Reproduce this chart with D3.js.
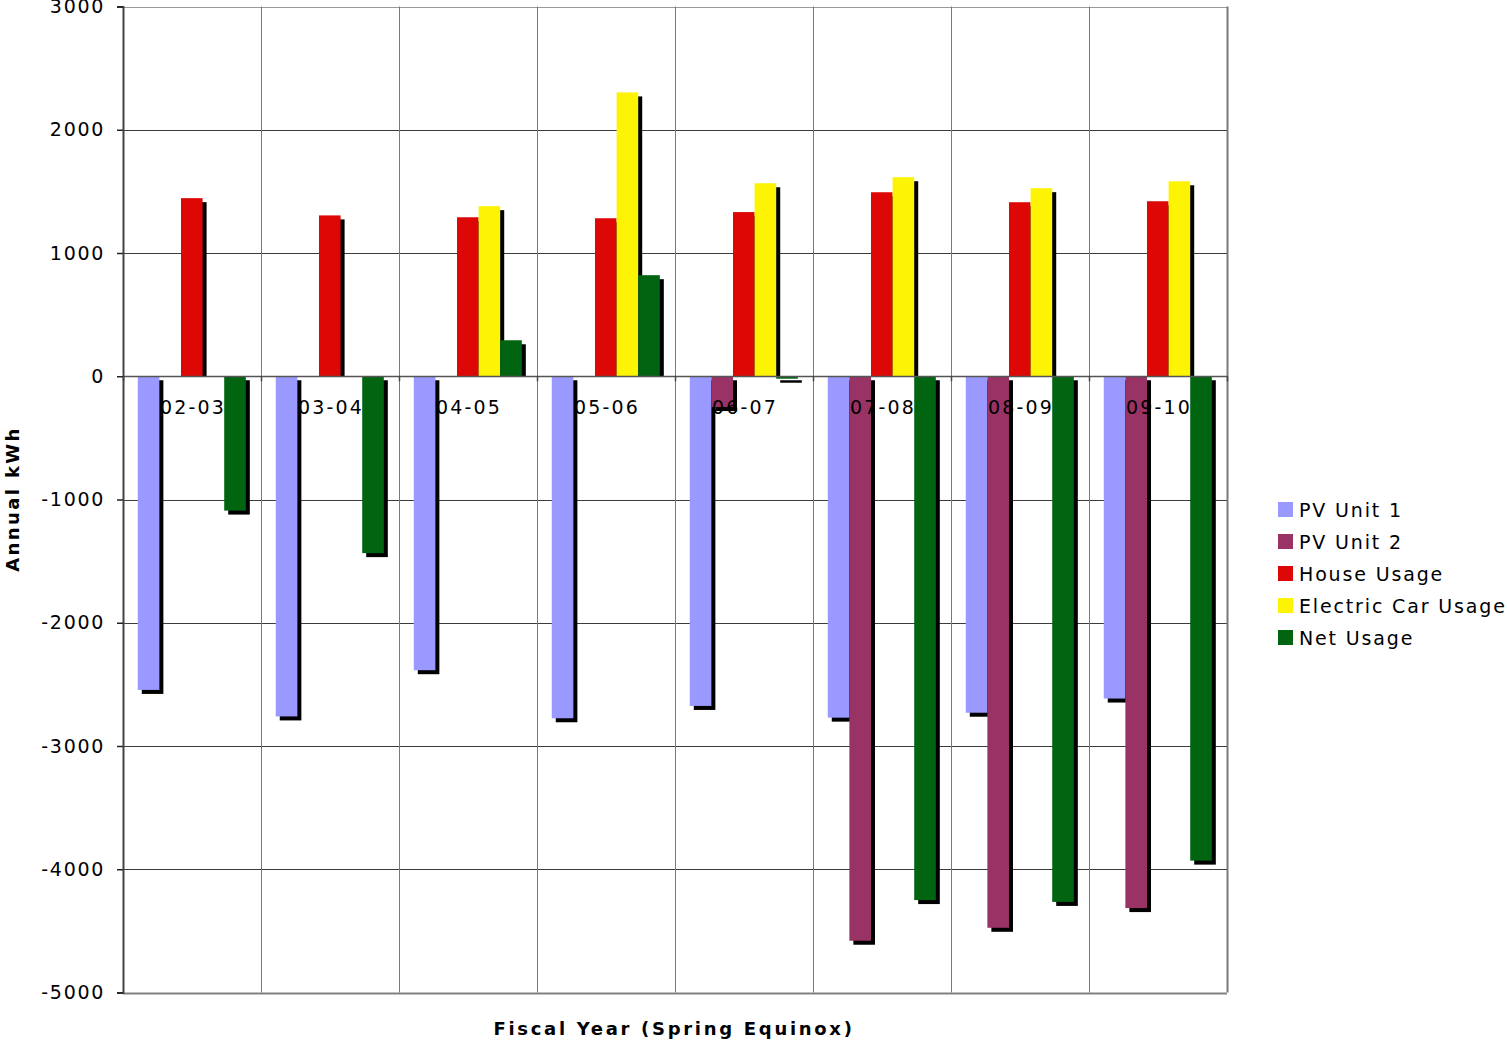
<!DOCTYPE html>
<html>
<head>
<meta charset="utf-8">
<script src="https://cdn.jsdelivr.net/npm/d3@7"></script>
<style>
  html, body { margin: 0; padding: 0; background: #fff; }
  svg { display: block; }
  text { font-family: "DejaVu Sans", Verdana, sans-serif; fill: #000; }
</style>
</head>
<body>
<svg id="chart" width="1507" height="1042"></svg>
<script>
const categories = ["02-03", "03-04", "04-05", "05-06", "06-07", "07-08", "08-09", "09-10"];
const seriesNames = ["PV Unit 1", "PV Unit 2", "House Usage", "Electric Car Usage", "Net Usage"];
const pvUnit1 = [-2545, -2760, -2385, -2775, -2675, -2770, -2730, -2615];
const pvUnit2 = [0, 0, 0, 0, -250, -4580, -4475, -4315];
const houseUsage = [1445, 1305, 1290, 1282, 1332, 1493, 1412, 1420];
const electricCarUsage = [0, 0, 1380, 2303, 1566, 1615, 1526, 1582];
const netUsage = [-1090, -1435, 292, 820, -20, -4250, -4265, -3930];
const yTicks = [3000, 2000, 1000, 0, -1000, -2000, -3000, -4000, -5000];
const seriesColors = ["#9999FF", "#993366", "#DD0806", "#FCF305", "#006411"];

const seriesValues = [pvUnit1, pvUnit2, houseUsage, electricCarUsage, netUsage];

const svg = d3.select("#chart");
const plot = { left: 123, right: 1227, top: 6.5, bottom: 992.5 };

const y = d3.scaleLinear().domain([-5000, 3000]).range([plot.bottom, plot.top]);
const x0 = d3.scaleBand().domain(categories).range([plot.left, plot.right]).padding(0);
const gw = x0.bandwidth();
const x1 = d3.scaleBand().domain(seriesNames).range([gw * 0.107, gw * 0.89]).padding(0);

const data = [];
categories.forEach((c, i) => {
  seriesNames.forEach((s, j) => {
    data.push({ cat: c, series: s, value: seriesValues[j][i], color: seriesColors[j] });
  });
});

// horizontal gridlines
svg.append("g").selectAll("line").data(yTicks).join("line")
  .attr("x1", plot.left).attr("x2", plot.right)
  .attr("y1", d => Math.round(y(d)) + 0.5).attr("y2", d => Math.round(y(d)) + 0.5)
  .attr("stroke", d => d === 3000 ? "#9a9a9a" : (d === -5000 ? "#808080" : "#3c3c3c"))
  .attr("stroke-width", d => d === -5000 ? 2 : 1);

// vertical separators
const seps = categories.map(c => x0(c)).slice(1).concat([plot.right]);
svg.append("g").selectAll("line").data(seps).join("line")
  .attr("x1", d => Math.round(d) + 0.5).attr("x2", d => Math.round(d) + 0.5)
  .attr("y1", plot.top).attr("y2", plot.bottom)
  .attr("stroke", "#7a7a7a").attr("stroke-width", d => d === plot.right ? 2 : 1);

const z = y(0);
const off = 4;

// shadows
svg.append("g").selectAll("rect").data(data.filter(d => d.value !== 0)).join("rect")
  .attr("x", d => x0(d.cat) + x1(d.series) + off)
  .attr("width", x1.bandwidth())
  .attr("y", d => d.value > 0 ? y(d.value) + off : z + off)
  .attr("height", d => d.value > 0 ? Math.max(0, z - y(d.value) - off) : y(d.value) - z)
  .attr("fill", "#000");

// bars
svg.append("g").selectAll("rect").data(data.filter(d => d.value !== 0)).join("rect")
  .attr("x", d => x0(d.cat) + x1(d.series))
  .attr("width", x1.bandwidth())
  .attr("y", d => d.value > 0 ? y(d.value) : z)
  .attr("height", d => Math.abs(y(d.value) - z))
  .attr("fill", d => d.color);

// zero axis line
svg.append("line")
  .attr("x1", plot.left).attr("x2", plot.right)
  .attr("y1", Math.round(z) + 0.5).attr("y2", Math.round(z) + 0.5)
  .attr("stroke", "#555").attr("stroke-width", 1.5);

// category ticks at zero line
const catTickPos = categories.map(c => x0(c)).concat([plot.right]);
svg.append("g").selectAll("line").data(catTickPos).join("line")
  .attr("x1", d => Math.round(d) + 0.5).attr("x2", d => Math.round(d) + 0.5)
  .attr("y1", z).attr("y2", z + 5)
  .attr("stroke", "#444").attr("stroke-width", 1.5);

// y axis
const yAxis = d3.axisLeft(y).tickValues(yTicks).tickSize(6).tickPadding(12).tickFormat(d3.format("d"));
const ya = svg.append("g").attr("transform", `translate(${plot.left},0)`).call(yAxis);
ya.select(".domain").attr("stroke", "#444").attr("stroke-width", 2);
ya.selectAll(".tick line").attr("stroke", "#222").attr("stroke-width", 1.5);
ya.selectAll(".tick text")
  .attr("font-family", "'DejaVu Sans', Verdana, sans-serif")
  .attr("font-size", 19).attr("letter-spacing", 1.7).attr("fill", "#000")
  .text(d => d < 0 ? "-" + Math.abs(d) : d);

// category labels
svg.append("g").selectAll("text").data(categories).join("text")
  .attr("x", d => x0(d) + gw / 2 + 1)
  .attr("y", z + 38)
  .attr("text-anchor", "middle")
  .attr("font-size", 19).attr("letter-spacing", 2.2)
  .text(d => d);

// axis titles
svg.append("text")
  .attr("transform", `translate(19,499) rotate(-90)`)
  .attr("text-anchor", "middle")
  .attr("font-size", 18).attr("font-weight", "bold").attr("letter-spacing", 2.4)
  .text("Annual kWh");

svg.append("text")
  .attr("x", 674).attr("y", 1035)
  .attr("text-anchor", "middle")
  .attr("font-size", 18).attr("font-weight", "bold").attr("letter-spacing", 2.7)
  .text("Fiscal Year (Spring Equinox)");

// legend
const lg = svg.append("g").selectAll("g").data(seriesNames).join("g")
  .attr("transform", (d, i) => `translate(1278,${502 + i * 32})`);
lg.append("rect").attr("width", 15).attr("height", 15).attr("fill", (d, i) => seriesColors[i]);
lg.append("text").attr("x", 21).attr("y", 15)
  .attr("font-size", 19).attr("letter-spacing", 1.85)
  .text(d => d);
</script>
</body>
</html>
